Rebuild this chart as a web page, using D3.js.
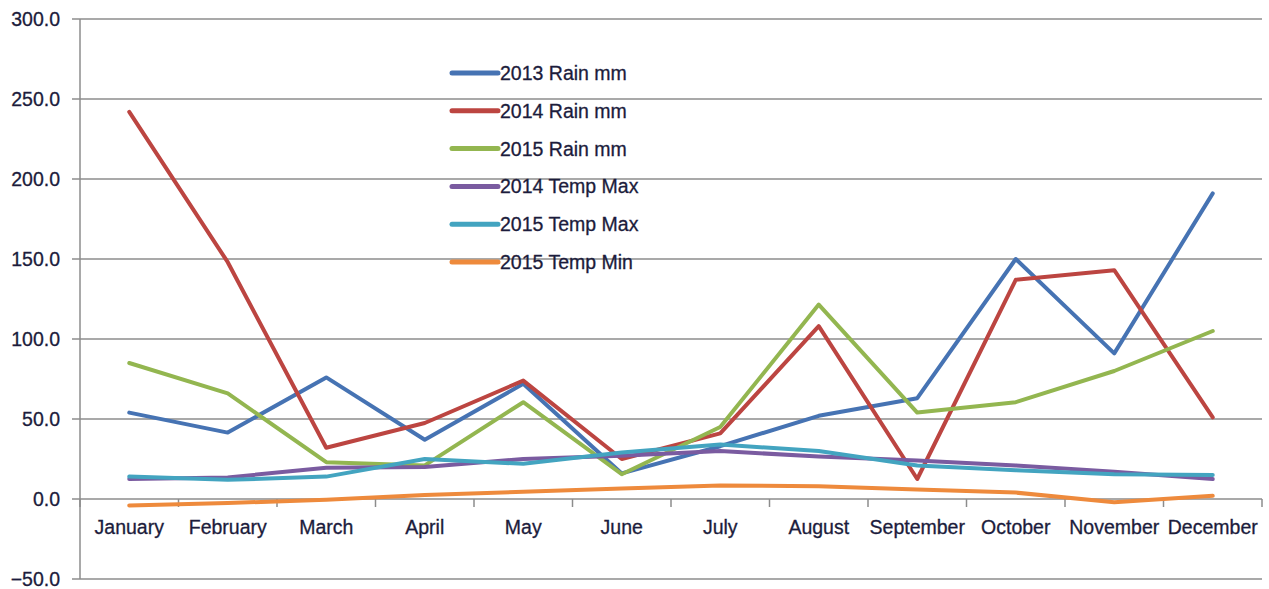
<!DOCTYPE html>
<html>
<head>
  <meta charset="utf-8">
  <script src="https://d3js.org/d3.v7.min.js"></script>
  <style>
    body { margin:0; background:#fff; font-family: "Liberation Sans", Arial, sans-serif; }
    .lbl { fill:#1c1c3c; font-size:19.5px; stroke:#1c1c3c; stroke-width:0.3px; }
  </style>
</head>
<body>
  <script>
    // chart data
    var months = ["January","February","March","April","May","June","July","August","September","October","November","December"];
    var seriesNames = ["2013 Rain mm","2014 Rain mm","2015 Rain mm","2014 Temp Max","2015 Temp Max","2015 Temp Min"];
    var rain2013 = [54, 41.5, 76, 37, 72, 16, 33, 52, 63, 150, 91, 191];
    var rain2014 = [242, 148, 32, 47.5, 74, 25, 41, 108, 12.5, 137, 143, 51];
    var rain2015 = [85, 66, 23, 21, 60.5, 15.5, 45, 121.5, 54, 60.5, 80, 105];
    var tmax2014 = [12.5, 13.5, 19.5, 20, 25, 27, 30, 26.5, 24, 21, 17, 12.5];
    var tmax2015 = [14, 12, 14, 25, 22, 29, 34, 30, 21, 18, 15.5, 15];
    var tmin2015 = [-4, -2.5, -0.5, 2.5, 4.5, 6.5, 8.5, 8, 6, 4, -2, 2];
    var yTicks = [-50, 0, 50, 100, 150, 200, 250, 300];
    var colors = ["#4673B3","#BC4541","#93B650","#7A5BA0","#43A4C0","#EE8A3C"];

    var allSeries = [rain2013, rain2014, rain2015, tmax2014, tmax2015, tmin2015];
    var W = 1269, H = 589;
    var mLeft = 80, mRight = 1262, mTop = 19, mBottom = 579;

    var svg = d3.select("body").append("svg")
      .attr("width", W)
      .attr("height", H);

    var x = d3.scaleBand().domain(months).range([mLeft, mRight]);
    var y = d3.scaleLinear().domain([-50, 300]).range([mBottom, mTop]);

    // gridlines + y labels
    svg.selectAll(".grid").data(yTicks).enter().append("line")
      .attr("x1", mLeft - 8).attr("x2", mRight)
      .attr("y1", function(d){ return y(d); })
      .attr("y2", function(d){ return y(d); })
      .attr("stroke", "#8c8c8c").attr("stroke-width", 1.5);

    svg.selectAll(".ylab").data(yTicks).enter().append("text")
      .attr("class", "lbl")
      .attr("x", 60).attr("y", function(d){ return y(d) + 7; })
      .attr("text-anchor", "end")
      .text(function(d){ return d3.format(".1f")(d); });

    // y axis line
    svg.append("line")
      .attr("x1", mLeft).attr("x2", mLeft).attr("y1", mTop).attr("y2", mBottom)
      .attr("stroke", "#8c8c8c").attr("stroke-width", 1.5);

    // x axis at zero with category ticks
    var bounds = months.map(function(m){ return x(m); }).concat([mRight]);
    svg.selectAll(".xtick").data(bounds).enter().append("line")
      .attr("x1", function(d){ return d; }).attr("x2", function(d){ return d; })
      .attr("y1", y(0)).attr("y2", y(0) + 8)
      .attr("stroke", "#8c8c8c").attr("stroke-width", 1.5);

    svg.selectAll(".xlab").data(months).enter().append("text")
      .attr("class", "lbl")
      .attr("x", function(d){ return x(d) + x.bandwidth() / 2; })
      .attr("y", y(0) + 35)
      .attr("text-anchor", "middle")
      .text(function(d){ return d; });

    // series lines
    var line = d3.line()
      .x(function(d, i){ return x(months[i]) + x.bandwidth() / 2; })
      .y(function(d){ return y(d); });

    allSeries.forEach(function(s, k){
      svg.append("path")
        .attr("d", line(s))
        .attr("fill", "none")
        .attr("stroke", colors[k])
        .attr("stroke-width", 4)
        .attr("stroke-linejoin", "round")
        .attr("stroke-linecap", "round");
    });

    // legend
    var lg = svg.append("g");
    seriesNames.forEach(function(n, k){
      var ly = 73 + k * 37.8;
      lg.append("line")
        .attr("x1", 452).attr("x2", 498).attr("y1", ly).attr("y2", ly)
        .attr("stroke", colors[k]).attr("stroke-width", 5)
        .attr("stroke-linecap", "round");
      lg.append("text").attr("class", "lbl")
        .attr("x", 500).attr("y", ly + 7)
        .text(n);
    });
  </script>
</body>
</html>
